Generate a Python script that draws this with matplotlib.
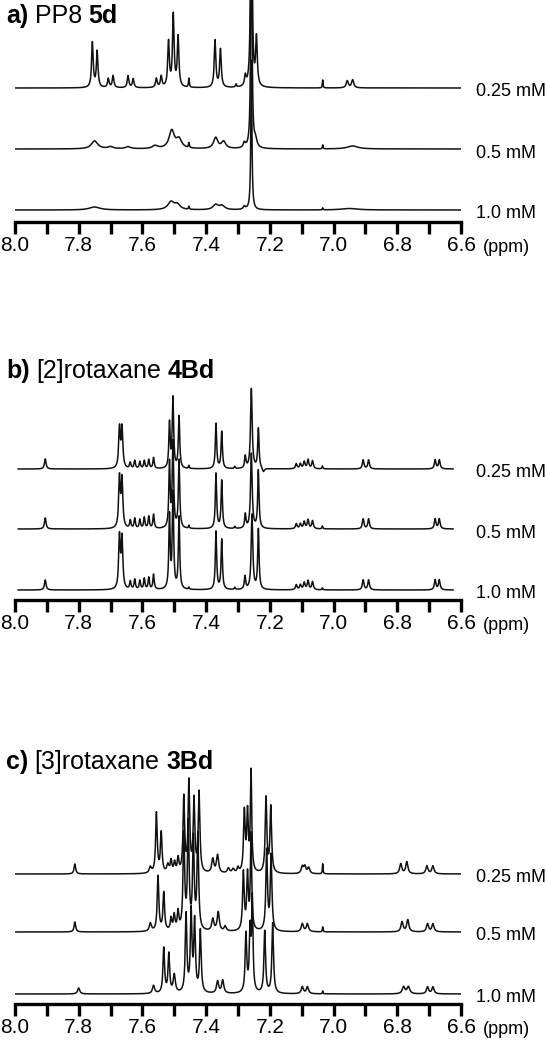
import numpy as np
import matplotlib.pyplot as plt

plt.rcParams['font.family'] = ['Liberation Sans', 'DejaVu Sans']

W, H = 546, 1044

# peak lists: (ppm, height in px, half width in ppm)
a_025 = [(7.757, 45, .003), (7.742, 36, .003), (7.707, 9, .003), (7.692, 12, .003),
         (7.645, 12, .003), (7.629, 9, .003), (7.556, 9, .003), (7.541, 11, .003),
         (7.518, 45, .003), (7.503, 72, .003), (7.488, 50, .003), (7.454, 9, .0015),
         (7.372, 47, .003), (7.355, 38, .003), (7.306, 3, .002), (7.277, 10, .003),
         (7.258, 400, .002), (7.242, 48, .003), (7.034, 8, .0012),
         (6.957, 7, .004), (6.940, 8, .004)]
a_05 = [(7.75, 8, .012), (7.70, 2, .01), (7.645, 2, .01), (7.56, 3, .01),
        (7.508, 18, .010), (7.485, 9, .010), (7.454, 5, .0015), (7.37, 11, .008),
        (7.345, 7, .008), (7.28, 5, .004), (7.258, 300, .002), (7.245, 8, .005),
        (7.034, 4, .0012), (6.94, 3, .02)]
a_10 = [(7.75, 3, .02), (7.51, 8, .012), (7.49, 5, .01), (7.454, 3, .0015),
        (7.37, 5, .01), (7.35, 4, .01), (7.28, 3, .004), (7.258, 150, .002),
        (7.034, 2, .0012), (6.95, 1.5, .03)]

b_025 = [(7.905, 10, .003), (7.672, 40, .003), (7.664, 40, .003),
         (7.638, 6, .0025), (7.624, 8, .0025), (7.608, 7, .0025), (7.594, 8, .0025),
         (7.580, 9, .0025), (7.565, 11, .0025), (7.515, 45, .0025), (7.504, 70, .0025),
         (7.485, 52, .0025), (7.454, 3, .0015), (7.369, 45, .0025), (7.351, 37, .0025),
         (7.31, 2, .002), (7.277, 12, .0025), (7.258, 80, .003), (7.236, 40, .0025),
         (7.22, -4, .004), (7.117, 5, .003), (7.104, 5, .003), (7.092, 7, .003),
         (7.080, 9, .003), (7.066, 8, .003), (7.035, 3, .0015),
         (6.907, 9, .003), (6.890, 9, .003), (6.681, 9, .003), (6.668, 9, .003)]
b_05 = [(7.905, 11, .003), (7.672, 50, .003), (7.664, 48, .003),
        (7.638, 8, .0025), (7.624, 10, .0025), (7.608, 9, .0025), (7.594, 11, .0025),
        (7.580, 12, .0025), (7.565, 14, .0025), (7.515, 65, .0025), (7.504, 85, .0025),
        (7.485, 68, .0025), (7.454, 3, .0015), (7.369, 55, .0025), (7.351, 48, .0025),
        (7.31, 2, .002), (7.277, 14, .0025), (7.258, 75, .003), (7.236, 58, .0025),
        (7.117, 5, .003), (7.104, 5, .003), (7.092, 7, .003), (7.080, 9, .003),
        (7.066, 8, .003), (7.035, 3, .0015), (6.907, 10, .003), (6.890, 10, .003),
        (6.681, 10, .003), (6.668, 10, .003)]
b_10 = [(7.905, 10, .003), (7.672, 52, .003), (7.664, 50, .003),
        (7.638, 8, .0025), (7.624, 10, .0025), (7.608, 9, .0025), (7.594, 11, .0025),
        (7.580, 12, .0025), (7.565, 15, .0025), (7.515, 73, .0025), (7.504, 95, .0025),
        (7.485, 72, .0025), (7.454, 2, .0015), (7.369, 58, .0025), (7.351, 50, .0025),
        (7.31, 2, .002), (7.278, 13, .0025), (7.256, 75, .003), (7.236, 60, .0025),
        (7.117, 5, .003), (7.104, 5, .003), (7.092, 7, .003), (7.080, 9, .003),
        (7.066, 8, .003), (7.035, 2, .0015), (6.907, 10, .003), (6.890, 10, .003),
        (6.681, 10, .003), (6.668, 10, .003)]

c_025 = [(7.812, 10, .003), (7.575, 6, .004), (7.556, 60, .003), (7.541, 40, .003),
         (7.52, 8, .004), (7.51, 12, .003), (7.499, 10, .003), (7.488, 14, .003),
         (7.47, 75, .003), (7.454, 90, .003), (7.438, 72, .003), (7.422, 80, .003),
         (7.379, 14, .004), (7.364, 18, .004), (7.33, 5, .004), (7.315, 4, .004),
         (7.30, 5, .003), (7.28, 60, .003), (7.27, 58, .003), (7.259, 100, .0025),
         (7.212, 75, .003), (7.197, 66, .003), (7.098, 7, .004), (7.090, 7, .004),
         (7.078, 6, .004), (7.034, 10, .0012), (6.789, 10, .004), (6.770, 12, .004),
         (6.707, 8, .004), (6.688, 8, .004)]
c_05 = [(7.812, 10, .003), (7.575, 8, .004), (7.551, 55, .003), (7.533, 38, .003),
        (7.51, 12, .003), (7.50, 15, .003), (7.488, 18, .003), (7.47, 95, .003),
        (7.456, 105, .003), (7.44, 90, .003), (7.426, 95, .003), (7.379, 12, .004),
        (7.362, 19, .004), (7.34, 5, .004), (7.283, 58, .003), (7.27, 55, .003),
        (7.259, 95, .0025), (7.21, 80, .003), (7.196, 75, .003), (7.098, 8, .004),
        (7.082, 8, .004), (7.034, 5, .0012), (6.785, 10, .004), (6.767, 12, .004),
        (6.705, 8, .004), (6.688, 8, .004)]
c_10 = [(7.80, 6, .004), (7.565, 8, .004), (7.533, 45, .003), (7.517, 39, .003),
        (7.50, 18, .004), (7.463, 78, .003), (7.447, 80, .003), (7.436, 70, .003),
        (7.418, 62, .003), (7.364, 12, .004), (7.348, 13, .004), (7.275, 58, .003),
        (7.262, 60, .003), (7.255, 90, .0025), (7.216, 62, .003), (7.191, 70, .003),
        (7.098, 7, .004), (7.082, 7, .004), (7.034, 3, .0012), (6.78, 7, .005),
        (6.765, 7, .005), (6.705, 7, .004), (6.688, 7, .004)]

conc_labels = ['0.25 mM', '0.5 mM', '1.0 mM']
tick_vals = [8.0, 7.9, 7.8, 7.7, 7.6, 7.5, 7.4, 7.3, 7.2, 7.1, 7.0, 6.9, 6.8, 6.7, 6.6]
tick_text = ['8.0', '', '7.8', '', '7.6', '', '7.4', '', '7.2', '', '7.0', '', '6.8', '', '6.6']

titles = [
    [('a)', 'bold'), ('PP8', 'normal'), ('5d', 'bold')],
    [('b)', 'bold'), ('[2]rotaxane', 'normal'), ('4Bd', 'bold')],
    [('c)', 'bold'), ('[3]rotaxane', 'normal'), ('3Bd', 'bold')],
]


def spectrum(x, peaks):
    y = np.zeros_like(x)
    for pos, h, w in peaks:
        y += h / (1 + ((x - pos) / w) ** 2)
    return y


fig = plt.figure(figsize=(W / 100, H / 100), dpi=100)
renderer = fig.canvas.get_renderer()

panels = [
    dict(top=0, axis=222, base=[88, 149, 210], spec=[a_025, a_05, a_10], title_y=23, xr=(8.0, 6.6)),
    dict(top=255, axis=600, base=[469, 529, 590], spec=[b_025, b_05, b_10], title_y=378, xr=(7.99, 6.625)),
    dict(top=640, axis=1004, base=[874, 932, 994], spec=[c_025, c_05, c_10], title_y=769, xr=(8.0, 6.6)),
]

x_left, x_width = 15, 446

for i, p in enumerate(panels):
    ax = fig.add_axes([x_left / W, 1 - p['axis'] / H, x_width / W, (p['axis'] - p['top']) / H])
    ax.patch.set_alpha(0)
    ax.set_xlim(8.0, 6.6)
    ax.set_ylim(0, p['axis'] - p['top'])
    for s in ['top', 'left', 'right']:
        ax.spines[s].set_visible(False)
    ax.spines['bottom'].set_linewidth(2.4)
    ax.set_yticks([])
    ax.set_xticks(tick_vals)
    ax.set_xticklabels(tick_text)
    ax.tick_params(axis='x', direction='out', length=8.6, width=2.4, labelsize=15, pad=1.5)

    x = np.linspace(p['xr'][1], p['xr'][0], 8000)
    for base, peaks, lab in zip(p['base'], p['spec'], conc_labels):
        off = p['axis'] - base
        ax.plot(x, off + spectrum(x, peaks), color='#111111', lw=1.1)
        fig.text(476 / W, 1 - (base + 4) / H, lab, fontsize=13, va='center', ha='left')

    fig.text(483 / W, 1 - (p['axis'] + 30) / H, '(ppm)', fontsize=13, va='baseline', ha='left')

    # title with mixed weights
    xpos = 6
    for txt, wt in titles[i]:
        t = fig.text(xpos / W, 1 - p['title_y'] / H, txt, fontsize=18, fontweight=wt,
                     va='baseline', ha='left')
        xpos += t.get_window_extent(renderer).width + 6.5

fig.savefig('out.png', dpi=100)
